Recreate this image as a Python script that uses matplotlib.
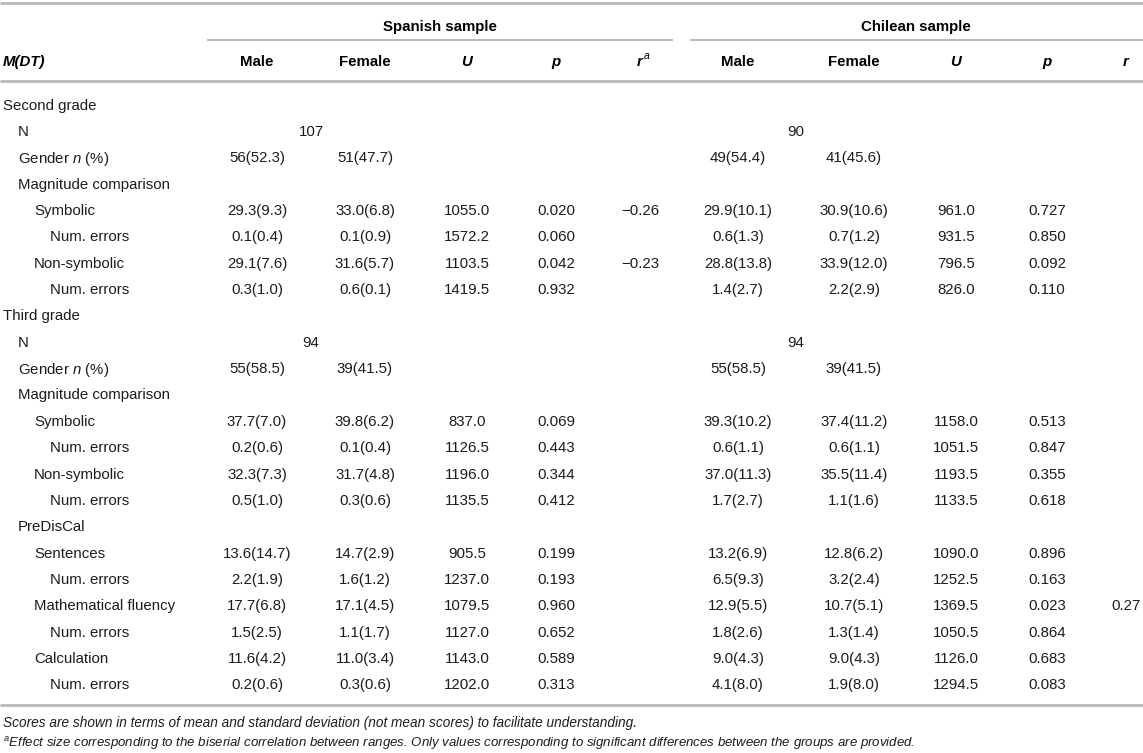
import matplotlib
matplotlib.use("Agg")
import matplotlib.pyplot as plt

plt.rcParams['font.family'] = ['Liberation Sans', 'DejaVu Sans']
plt.rcParams['mathtext.fontset'] = 'custom'
plt.rcParams['mathtext.rm'] = 'Liberation Sans'
plt.rcParams['mathtext.it'] = 'Liberation Sans:italic'
plt.rcParams['mathtext.bf'] = 'Liberation Sans:bold'

# ---------------- data ----------------
row_labels = [
    "Second grade", "N", "Gender $n$ (%)", "Magnitude comparison",
    "Symbolic", "Num. errors", "Non-symbolic", "Num. errors",
    "Third grade", "N", "Gender $n$ (%)", "Magnitude comparison",
    "Symbolic", "Num. errors", "Non-symbolic", "Num. errors",
    "PreDisCal", "Sentences", "Num. errors", "Mathematical fluency",
    "Num. errors", "Calculation", "Num. errors",
]
row_levels = [0, 1, 1, 1, 2, 3, 2, 3,
              0, 1, 1, 1, 2, 3, 2, 3,
              1, 2, 3, 2, 3, 2, 3]

# N per sample (spans Male+Female)
n_spanish = {1: "107", 9: "94"}
n_chilean = {1: "90", 9: "94"}

spanish_male = ["", "", "56(52.3)", "", "29.3(9.3)", "0.1(0.4)", "29.1(7.6)", "0.3(1.0)",
                "", "", "55(58.5)", "", "37.7(7.0)", "0.2(0.6)", "32.3(7.3)", "0.5(1.0)",
                "", "13.6(14.7)", "2.2(1.9)", "17.7(6.8)", "1.5(2.5)", "11.6(4.2)", "0.2(0.6)"]
spanish_female = ["", "", "51(47.7)", "", "33.0(6.8)", "0.1(0.9)", "31.6(5.7)", "0.6(0.1)",
                  "", "", "39(41.5)", "", "39.8(6.2)", "0.1(0.4)", "31.7(4.8)", "0.3(0.6)",
                  "", "14.7(2.9)", "1.6(1.2)", "17.1(4.5)", "1.1(1.7)", "11.0(3.4)", "0.3(0.6)"]
spanish_U = ["", "", "", "", "1055.0", "1572.2", "1103.5", "1419.5",
             "", "", "", "", "837.0", "1126.5", "1196.0", "1135.5",
             "", "905.5", "1237.0", "1079.5", "1127.0", "1143.0", "1202.0"]
spanish_p = ["", "", "", "", "0.020", "0.060", "0.042", "0.932",
             "", "", "", "", "0.069", "0.443", "0.344", "0.412",
             "", "0.199", "0.193", "0.960", "0.652", "0.589", "0.313"]
spanish_r = ["", "", "", "", "\u22120.26", "", "\u22120.23", "",
             "", "", "", "", "", "", "", "",
             "", "", "", "", "", "", ""]

chilean_male = ["", "", "49(54.4)", "", "29.9(10.1)", "0.6(1.3)", "28.8(13.8)", "1.4(2.7)",
                "", "", "55(58.5)", "", "39.3(10.2)", "0.6(1.1)", "37.0(11.3)", "1.7(2.7)",
                "", "13.2(6.9)", "6.5(9.3)", "12.9(5.5)", "1.8(2.6)", "9.0(4.3)", "4.1(8.0)"]
chilean_female = ["", "", "41(45.6)", "", "30.9(10.6)", "0.7(1.2)", "33.9(12.0)", "2.2(2.9)",
                  "", "", "39(41.5)", "", "37.4(11.2)", "0.6(1.1)", "35.5(11.4)", "1.1(1.6)",
                  "", "12.8(6.2)", "3.2(2.4)", "10.7(5.1)", "1.3(1.4)", "9.0(4.3)", "1.9(8.0)"]
chilean_U = ["", "", "", "", "961.0", "931.5", "796.5", "826.0",
             "", "", "", "", "1158.0", "1051.5", "1193.5", "1133.5",
             "", "1090.0", "1252.5", "1369.5", "1050.5", "1126.0", "1294.5"]
chilean_p = ["", "", "", "", "0.727", "0.850", "0.092", "0.110",
             "", "", "", "", "0.513", "0.847", "0.355", "0.618",
             "", "0.896", "0.163", "0.023", "0.864", "0.683", "0.083"]
chilean_r = ["", "", "", "", "", "", "", "",
             "", "", "", "", "", "", "", "",
             "", "", "", "0.27", "", "", ""]

col_headers = ["Male", "Female", "U", "p", "r", "Male", "Female", "U", "p", "r"]
group_headers = ["Spanish sample", "Chilean sample"]
stub_header = "M(DT)"
footnotes = [
    "Scores are shown in terms of mean and standard deviation (not mean scores) to facilitate understanding.",
    "$^{a}$Effect size corresponding to the biserial correlation between ranges. Only values corresponding to significant differences between the groups are provided.",
]

# ---------------- layout ----------------
W, H = 1143, 753
fig = plt.figure(figsize=(W / 100, H / 100), dpi=100)
ax = fig.add_axes([0, 0, 1, 1])
ax.set_xlim(0, W)
ax.set_ylim(H, 0)
ax.axis("off")

FS = 10.8
TXT = "#1c1c1c"
LINE = "#b8b8b8"

col_x = [257, 365, 467, 556, 640, 738, 854, 956, 1047, 1126]
row_y0, row_dy = 104, 26.36
indent = [3, 18, 34, 50]

# rules
ax.plot([0, W], [3, 3], color=LINE, lw=2.0, solid_capstyle="butt")
ax.plot([207, 673], [40, 40], color=LINE, lw=1.4, solid_capstyle="butt")
ax.plot([690, W], [40, 40], color=LINE, lw=1.4, solid_capstyle="butt")
ax.plot([0, W], [81, 81], color=LINE, lw=2.0, solid_capstyle="butt")
ax.plot([0, W], [705, 705], color=LINE, lw=2.0, solid_capstyle="butt")

# group headers
ax.text(440, 25, group_headers[0], ha="center", va="center_baseline",
        fontsize=FS, fontweight="bold", color="black")
ax.text(916, 25, group_headers[1], ha="center", va="center_baseline",
        fontsize=FS, fontweight="bold", color="black")

# column headers
hy = 60
ax.text(3, hy, stub_header, ha="left", va="center_baseline", fontsize=FS,
        fontweight="bold", style="italic", color="black")
for i, (x, h) in enumerate(zip(col_x, col_headers)):
    if h in ("U", "p", "r"):
        if i == 4:
            ax.text(x + 3, hy, h, ha="right", va="center_baseline", fontsize=FS,
                    fontweight="bold", style="italic", color="black")
            ax.text(x + 3.5, hy - 5, "a", ha="left", va="center_baseline", fontsize=7.5,
                    style="italic", color="black")
        else:
            ax.text(x, hy, h, ha="center", va="center_baseline", fontsize=FS,
                    fontweight="bold", style="italic", color="black")
    else:
        ax.text(x, hy, h, ha="center", va="center_baseline", fontsize=FS,
                fontweight="bold", color="black")

# body
columns = [spanish_male, spanish_female, spanish_U, spanish_p, spanish_r,
           chilean_male, chilean_female, chilean_U, chilean_p, chilean_r]
for i, lab in enumerate(row_labels):
    y = row_y0 + i * row_dy
    ax.text(indent[row_levels[i]], y, lab, ha="left", va="center_baseline",
            fontsize=FS, color=TXT)
    for x, col in zip(col_x, columns):
        if col[i]:
            ax.text(x, y, col[i], ha="center", va="center_baseline",
                    fontsize=FS, color=TXT)
    if i in n_spanish:
        ax.text((col_x[0] + col_x[1]) / 2, y, n_spanish[i], ha="center",
                va="center_baseline", fontsize=FS, color=TXT)
    if i in n_chilean:
        ax.text((col_x[5] + col_x[6]) / 2, y, n_chilean[i], ha="center",
                va="center_baseline", fontsize=FS, color=TXT)

# footnotes
ax.text(3, 722, footnotes[0], ha="left", va="center_baseline", fontsize=9.8,
        style="italic", color=TXT)
ax.text(3, 741, footnotes[1], ha="left", va="center_baseline", fontsize=9.5,
        style="italic", color=TXT)

fig.savefig("out.png", dpi=100)
